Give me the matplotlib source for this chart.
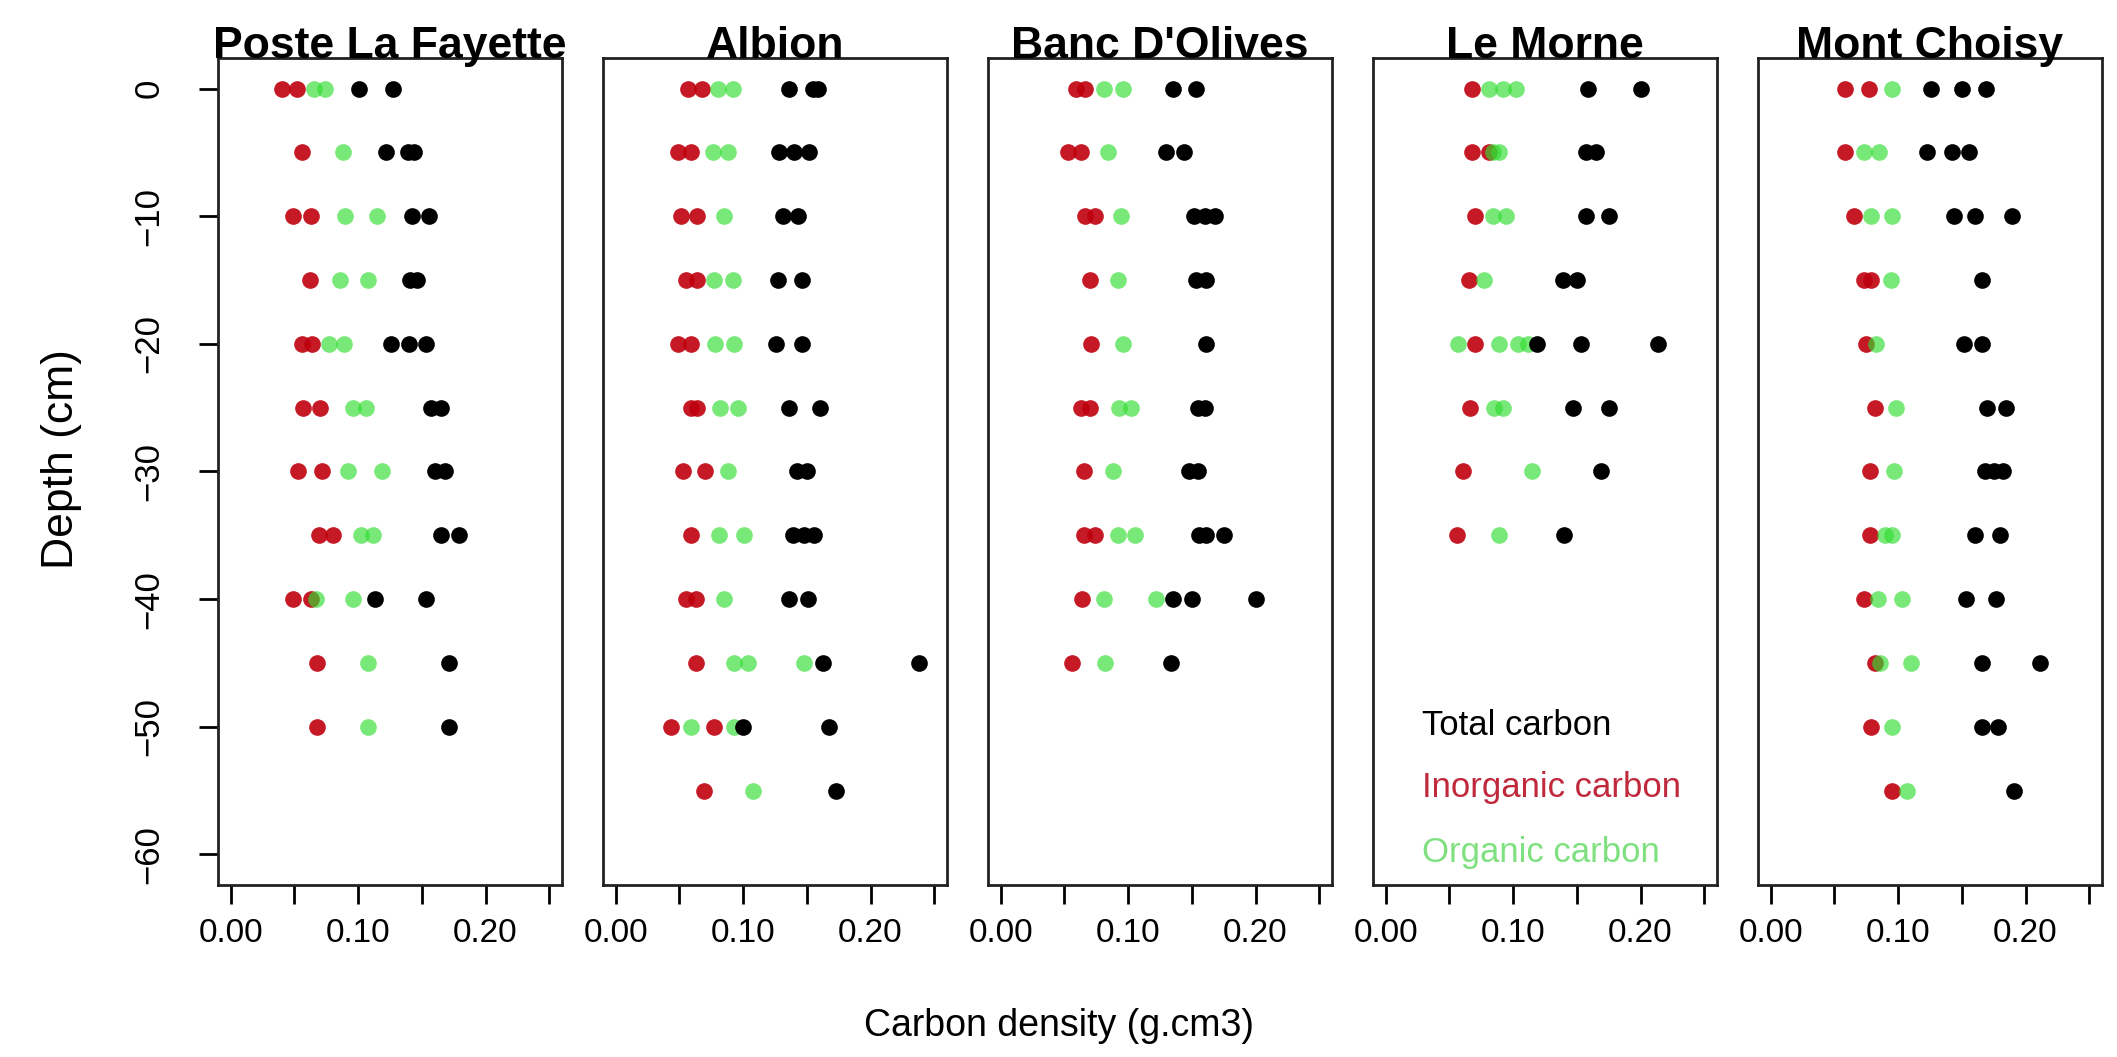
import matplotlib
matplotlib.use("Agg")
import matplotlib.pyplot as plt

plt.rcParams["font.family"] = ["Liberation Sans", "DejaVu Sans"]

# panel titles, in plotting order
sites = ["Poste La Fayette", "Albion", "Banc D'Olives", "Le Morne", "Mont Choisy"]

# sampled depths per site (cm)
poste_depth = [0, -5, -10, -15, -20, -25, -30, -35, -40, -45, -50]
albion_depth = [0, -5, -10, -15, -20, -25, -30, -35, -40, -45, -50, -55]
banc_depth = [0, -5, -10, -15, -20, -25, -30, -35, -40, -45]
morne_depth = [0, -5, -10, -15, -20, -25, -30, -35]
choisy_depth = [0, -5, -10, -15, -20, -25, -30, -35, -40, -45, -50, -55]

# carbon density (g.cm3), replicates per depth
poste_inorg = [[0.040, 0.052], [0.056], [0.049, 0.063], [0.062], [0.056, 0.064], [0.057, 0.070],
               [0.053, 0.072], [0.069, 0.080], [0.049, 0.063], [0.068], [0.068]]
poste_org = [[0.065, 0.074], [0.088], [0.090, 0.115], [0.086, 0.108], [0.077, 0.089], [0.096, 0.106],
             [0.092, 0.119], [0.102, 0.112], [0.067, 0.096], [0.108], [0.108]]
poste_total = [[0.101, 0.127], [0.122, 0.139, 0.144], [0.142, 0.156], [0.141, 0.146], [0.126, 0.140, 0.153],
               [0.157, 0.165], [0.160, 0.168], [0.165, 0.179], [0.113, 0.153], [0.171], [0.171]]

albion_inorg = [[0.057, 0.068], [0.049, 0.059], [0.051, 0.064], [0.055, 0.064], [0.049, 0.059], [0.059, 0.064],
                [0.053, 0.070], [0.059], [0.055, 0.063], [0.063], [0.043, 0.077], [0.069]]
albion_org = [[0.080, 0.092], [0.076, 0.088], [0.085], [0.077, 0.092], [0.078, 0.093], [0.082, 0.096],
              [0.088], [0.081, 0.101], [0.085], [0.093, 0.104, 0.148], [0.059, 0.093], [0.108]]
albion_total = [[0.136, 0.155, 0.159], [0.128, 0.140, 0.152], [0.131, 0.143], [0.127, 0.146], [0.126, 0.146],
                [0.136, 0.160], [0.142, 0.150], [0.139, 0.148, 0.156], [0.136, 0.151], [0.163, 0.238],
                [0.100, 0.167], [0.173]]

banc_inorg = [[0.059, 0.066], [0.053, 0.063], [0.066, 0.074], [0.070], [0.071], [0.063, 0.070],
              [0.065], [0.065, 0.074], [0.064], [0.056]]
banc_org = [[0.081, 0.096], [0.084], [0.094], [0.092], [0.096], [0.093, 0.102],
            [0.088], [0.092, 0.105], [0.081, 0.122], [0.082]]
banc_total = [[0.135, 0.153], [0.130, 0.144], [0.152, 0.160, 0.168], [0.153, 0.161], [0.161], [0.155, 0.160],
              [0.148, 0.155], [0.156, 0.161, 0.175], [0.135, 0.150, 0.200], [0.134]]

morne_inorg = [[0.068], [0.068, 0.081], [0.070], [0.065], [0.070], [0.066], [0.061], [0.056]]
morne_org = [[0.081, 0.092, 0.102], [0.084, 0.089], [0.084, 0.094], [0.077], [0.057, 0.089, 0.104, 0.112],
             [0.085, 0.092], [0.115], [0.089]]
morne_total = [[0.159, 0.200], [0.157, 0.165], [0.157, 0.175], [0.139, 0.150], [0.119, 0.153, 0.214],
               [0.147, 0.175], [0.169], [0.140]]

choisy_inorg = [[0.058, 0.077], [0.058], [0.065], [0.073, 0.079], [0.075], [0.082], [0.078], [0.078],
                [0.073], [0.082], [0.079], [0.095]]
choisy_org = [[0.095], [0.073, 0.085], [0.079, 0.095], [0.094], [0.083], [0.098], [0.097], [0.090, 0.095],
              [0.084, 0.103], [0.086, 0.110], [0.095], [0.107]]
choisy_total = [[0.126, 0.150, 0.169], [0.123, 0.142, 0.156], [0.144, 0.160, 0.189], [0.166], [0.152, 0.166],
                [0.170, 0.185], [0.168, 0.175, 0.182], [0.160, 0.180], [0.153, 0.177], [0.166, 0.211],
                [0.166, 0.178], [0.191]]

legend_labels = ["Total carbon", "Inorganic carbon", "Organic carbon"]
x_ticks = [0.0, 0.05, 0.10, 0.15, 0.20, 0.25]
x_ticklabels = ["0.00", "", "0.10", "", "0.20", ""]
y_ticks = [0, -10, -20, -30, -40, -50, -60]

RED = "#bf000e"
GREEN = "#30dc30"
BLACK = "black"
LEG_RED = "#c0283c"
LEG_GREEN = "#7fe07f"


def flatten(depths, values):
    # expand the per-depth replicate lists into x/y arrays
    xs, ys = [], []
    for d, reps in zip(depths, values):
        for v in reps:
            xs.append(v)
            ys.append(d)
    return xs, ys


panels = [
    (poste_depth, poste_inorg, poste_org, poste_total),
    (albion_depth, albion_inorg, albion_org, albion_total),
    (banc_depth, banc_inorg, banc_org, banc_total),
    (morne_depth, morne_inorg, morne_org, morne_total),
    (choisy_depth, choisy_inorg, choisy_org, choisy_total),
]

W, H = 2117, 1057
fig = plt.figure(figsize=(W / 100, H / 100), dpi=100)

lefts = [218, 603, 988, 1373, 1758]
top_px, bottom_px, width_px = 58, 885, 344

for i, (site, (depth, inorg, org, total)) in enumerate(zip(sites, panels)):
    ax = fig.add_axes([lefts[i] / W, 1 - bottom_px / H, width_px / W, (bottom_px - top_px) / H])

    xs, ys = flatten(depth, inorg)
    ax.plot(xs, ys, "o", color=RED, alpha=0.9, ms=12, mew=0)
    xs, ys = flatten(depth, org)
    ax.plot(xs, ys, "o", color=GREEN, alpha=0.65, ms=12, mew=0)
    xs, ys = flatten(depth, total)
    ax.plot(xs, ys, "o", color=BLACK, ms=12, mew=0)

    ax.set_xlim(-0.01, 0.26)
    ax.set_ylim(-62.4, 2.4)
    ax.set_xticks(x_ticks)
    ax.set_xticklabels(x_ticklabels, fontsize=24)
    ax.tick_params(axis="x", length=14, width=2, pad=10)

    if i == 0:
        ax.set_yticks(y_ticks)
        ax.set_yticklabels([str(t).replace("-", "\u2212") for t in y_ticks], fontsize=25,
                           rotation=90, va="center")
        ax.tick_params(axis="y", length=14, width=2, pad=24)
    else:
        ax.set_yticks([])

    for sp in ax.spines.values():
        sp.set_linewidth(2)
        sp.set_color("#222222")

    ax.text(0.5, 1.0, site, transform=ax.transAxes, ha="center", va="baseline",
            fontsize=32, fontweight="bold")

    if i == 3:
        for lab, col, yf in zip(legend_labels, [BLACK, LEG_RED, LEG_GREEN], [0.193, 0.1185, 0.039]):
            ax.text(0.142, yf, lab, transform=ax.transAxes, ha="left", va="center",
                    fontsize=25, color=col)

fig.text(61 / W, 1 - 459 / H, "Depth (cm)", rotation=90, ha="center", va="center", fontsize=32)
fig.text(1059 / W, 1 - 1026 / H, "Carbon density (g.cm3)", ha="center", va="center", fontsize=27)

fig.savefig("out.png", dpi=100, facecolor="white")
